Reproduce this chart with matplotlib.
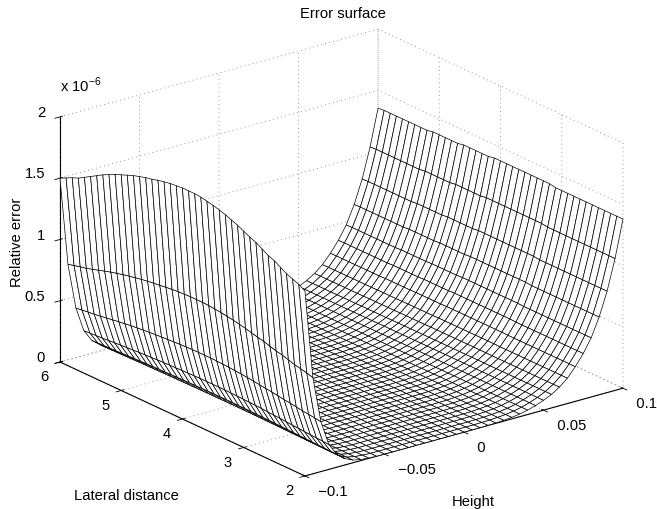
import numpy as np
import matplotlib
matplotlib.use("Agg")
import matplotlib.pyplot as plt
from mpl_toolkits.mplot3d import proj3d

plt.rcParams["font.family"] = ["Liberation Sans", "DejaVu Sans"]
plt.rcParams["font.size"] = 10.6

W, H_PX = 657, 510

# Grid of the mesh
heights = np.linspace(-0.1, 0.1, 41)
distances = np.linspace(2, 6, 41)

# Rim heights along the lateral distance (x 1e-6)
left_rim = [1.51, 1.54, 1.56, 1.58, 1.61, 1.64, 1.66, 1.69, 1.72, 1.74, 1.765,
            1.79, 1.81, 1.83, 1.845, 1.86, 1.87, 1.88, 1.885, 1.885, 1.885,
            1.88, 1.875, 1.865, 1.855, 1.84, 1.83, 1.815, 1.80, 1.78, 1.76,
            1.74, 1.715, 1.69, 1.66, 1.63, 1.60, 1.57, 1.55, 1.525, 1.50]
right_rim = [1.38, 1.38, 1.38, 1.38, 1.38, 1.38, 1.38, 1.38, 1.38, 1.38, 1.38,
             1.38, 1.39, 1.39, 1.39, 1.39, 1.39, 1.39, 1.39, 1.39, 1.39, 1.39,
             1.38, 1.38, 1.38, 1.38, 1.38, 1.37, 1.37, 1.37, 1.37, 1.37, 1.36,
             1.36, 1.36, 1.36, 1.36, 1.36, 1.36, 1.36, 1.355]

# Fall of each wall across the height, as a share of the rim
left_fall = [1, .52, .27, .135, .07, .035, .015, .006, .002] + [0] * 32
right_fall = [0] * 23 + [.001, .002, .005, .009, .016, .026, .04, .058, .08,
                         .11, .15, .205, .27, .35, .46, .60, .78, 1]

x_ticks = [-0.1, -0.05, 0, 0.05, 0.1]
# the spaces push the labels sideways, mplot3d only moves them along the pad
x_labels = ["  \u22120.1", "  \u22120.05", "  0", "  0.05", "  0.1"]
y_ticks = [2, 3, 4, 5, 6]
y_labels = ["2 ", "3 ", "4 ", "5 ", "6 "]
z_ticks = [0, 0.5, 1, 1.5, 2]
z_labels = ["0", "0.5", "1", "1.5", "2"]

Z = np.outer(left_rim, left_fall) + np.outer(right_rim, right_fall)
HH, DD = np.meshgrid(heights, distances)

fig = plt.figure(figsize=(W / 100, H_PX / 100), dpi=100)
ax = fig.add_axes([0.1, 0.0, 500 / W, 500 / H_PX], projection="3d")
ax.set_proj_type("ortho")
ax.view_init(elev=21, azim=-127.6)
ax.set_box_aspect((1, 1, 0.654))

ax.plot_surface(HH, DD, Z, rstride=1, cstride=1, color="white",
                edgecolor="black", linewidth=0.5, shade=False)

ax.set_xlim(-0.1, 0.1, view_margin=0)
ax.set_ylim(2, 6, view_margin=0)
ax.set_zlim(0, 2, view_margin=0)
ax.set_xticks(x_ticks, x_labels)
ax.set_yticks(y_ticks, y_labels)
ax.set_zticks(z_ticks, z_labels)
ax.tick_params(axis="x", pad=-3)
ax.tick_params(axis="y", pad=-3)
ax.tick_params(axis="z", pad=-2)
for label in ax.get_xticklabels():
    label.set_ha("left")
for label in ax.get_yticklabels():
    label.set_ha("right")
for label in ax.get_zticklabels():
    label.set_ha("right")
    label.set_va("baseline")

for axis in (ax.xaxis, ax.yaxis, ax.zaxis):
    axis.set_pane_color((1, 1, 1, 0))
    axis.pane.set_edgecolor((1, 1, 1, 0))
    axis.line.set_color("black")
    axis.line.set_linewidth(0.8)
    axis._axinfo["grid"].update(color="#777777", linestyle=(0, (1, 4)), linewidth=0.6)
    axis._axinfo["tick"]["color"] = "black"
    axis._axinfo["tick"]["linewidth"] = {True: 0.6, False: 0.6}


# Put the box corners where the reference has them
def corner_px(x, y, z):
    px, py, _ = proj3d.proj_transform(x, y, z, ax.get_proj())
    return ax.transData.transform((px, py))


fig.canvas.draw()
left = corner_px(-0.1, 6, 0)
right = corner_px(0.1, 2, 0)
scale = (623 - 60) / (right[0] - left[0])
side = 500 * scale
ax.set_position([0.1, 0.0, side / W, side / H_PX])
fig.canvas.draw()
left = corner_px(-0.1, 6, 0)
pos = ax.get_position()
ax.set_position([pos.x0 + (60 - left[0]) / W,
                 pos.y0 + ((H_PX - 363) - left[1]) / H_PX,
                 side / W, side / H_PX])

fig.text(342.5 / W, 1 - 14.5 / H_PX, "Error surface", ha="center", va="center")
fig.text(126 / W, 1 - 496 / H_PX, "Lateral distance", ha="center", va="center")
fig.text(473 / W, 1 - 502 / H_PX, "Height", ha="center", va="center")
fig.text(17 / W, 1 - 242 / H_PX, "Relative error", rotation=90,
         ha="center", va="center")
fig.text(60 / W, 1 - 85 / H_PX, "x 10$^{\\mathregular{-6}}$", ha="left", va="center")

fig.savefig("out.png", dpi=100)
